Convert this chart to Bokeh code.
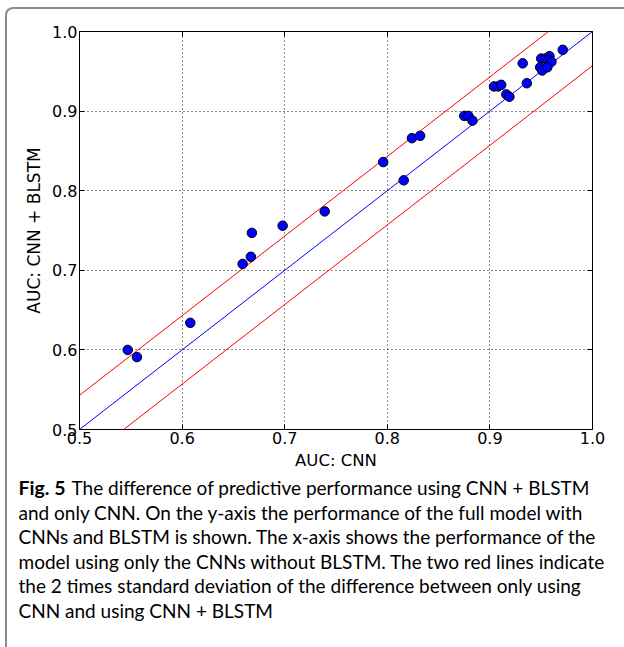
from bokeh.plotting import figure
from bokeh.layouts import column
from bokeh.models import Range1d, FixedTicker, InlineStyleSheet, LinearAxis
from bokeh.core.properties import value
from bokeh.embed import file_html
from bokeh.resources import INLINE

# ---- data ----
cnn_auc = [0.547, 0.556, 0.608, 0.659, 0.667, 0.668, 0.698, 0.739,
           0.796, 0.816, 0.824, 0.832, 0.875, 0.879, 0.883,
           0.904, 0.908, 0.911, 0.916, 0.919, 0.932, 0.936,
           0.950, 0.954, 0.958, 0.957, 0.960, 0.949, 0.951, 0.956, 0.971]
blstm_auc = [0.600, 0.591, 0.634, 0.708, 0.717, 0.747, 0.756, 0.774,
             0.836, 0.813, 0.866, 0.869, 0.894, 0.894, 0.888,
             0.931, 0.931, 0.933, 0.921, 0.918, 0.960, 0.935,
             0.966, 0.966, 0.969, 0.964, 0.962, 0.955, 0.951, 0.955, 0.977]

diag_x = [0.5, 1.0]
diag_y = [0.5, 1.0]
upper_y = [0.543, 1.043]
lower_y = [0.457, 0.957]

ticks = [0.5, 0.6, 0.7, 0.8, 0.9, 1.0]
tick_labels = ["0.5", "0.6", "0.7", "0.8", "0.9", "1.0"]

x_title = "AUC: CNN"
y_title = "AUC: CNN + BLSTM"
caption_bold = "Fig. 5"
caption_lines = [
    "The difference of predictive performance using CNN + BLSTM",
    "and only CNN. On the y-axis the performance of the full model with",
    "CNNs and BLSTM is shown. The x-axis shows the performance of the",
    "model using only the CNNs without BLSTM. The two red lines indicate",
    "the 2 times standard deviation of the difference between only using",
    "CNN and using CNN + BLSTM",
]

# ---- layout (pixels) ----
W, H = 624, 647
FL, FT, FW, FH = 79, 31, 513, 399   # frame left/top/width/height
H1 = 472                            # height of the chart part
H2 = H - H1                         # caption part

p = figure(width=W, height=H1, output_backend="svg", toolbar_location=None,
           x_range=Range1d(0.5, 1.0), y_range=Range1d(0.5, 1.0),
           min_border_left=FL, min_border_right=W - FL - FW, min_border_top=FT,
           min_border_bottom=H1 - FT - FH)
p.frame_align = False
p.background_fill_color = "white"
p.border_fill_color = "white"
p.outline_line_color = "black"
p.outline_line_width = 1
p.outline_line_alpha = 1

bottom_axis = p.below[0]
left_axis = p.left[0]

# mirror ticks on the top and right edges (matplotlib style), no labels
top_axis = LinearAxis()
right_axis = LinearAxis()
p.add_layout(top_axis, "above")
p.add_layout(right_axis, "right")
for ax in (top_axis, right_axis):
    ax.ticker = FixedTicker(ticks=ticks)
    ax.major_label_overrides = {t: "" for t in ticks}
    ax.major_label_text_font_size = "1px"
    ax.major_label_standoff = 0
    ax.axis_line_color = None
    ax.major_tick_in = 5
    ax.major_tick_out = 0
    ax.major_tick_line_color = "black"
    ax.minor_tick_line_color = None

for ax in (bottom_axis, left_axis):
    ax.ticker = FixedTicker(ticks=ticks)
    ax.major_label_overrides = {t: l for t, l in zip(ticks, tick_labels)}
    ax.axis_line_color = None
    ax.major_tick_in = 5
    ax.major_tick_out = 0
    ax.major_tick_line_color = "black"
    ax.minor_tick_line_color = None
    ax.major_label_text_font = "DejaVu Sans"
    ax.major_label_text_font_size = "16px"
    ax.major_label_text_color = "black"
    ax.major_label_standoff = 2
    ax.axis_label_text_font = "DejaVu Sans"
    ax.axis_label_text_font_style = "normal"
    ax.axis_label_text_color = "black"

bottom_axis.axis_label = x_title
left_axis.axis_label = y_title
bottom_axis.axis_label_text_font_size = "16.5px"
left_axis.axis_label_text_font_size = "17px"
bottom_axis.axis_label_standoff = 4
left_axis.axis_label_standoff = 5

for g in p.grid:
    g.ticker = FixedTicker(ticks=ticks)
    g.grid_line_color = "black"
    g.grid_line_dash = "1 3"
    g.grid_line_width = 1
    g.grid_line_alpha = 0.9

p.line(diag_x, upper_y, line_color="red", line_width=1)
p.line(diag_x, lower_y, line_color="red", line_width=1)
p.line(diag_x, diag_y, line_color="blue", line_width=1)

p.scatter(cnn_auc, blstm_auc, size=9.5, fill_color="#0000ff",
          line_color="black", line_width=1)

# ---- caption panel: a bare figure whose data units are page pixels ----
c = figure(width=W, height=H2, output_backend="svg", toolbar_location=None,
           x_range=Range1d(0, W), y_range=Range1d(H, H1),
           x_axis_type=None, y_axis_type=None,
           min_border=0, min_border_left=0, min_border_right=0,
           min_border_top=0, min_border_bottom=0)
c.frame_align = False
c.grid.visible = False
c.outline_line_color = None
c.background_fill_color = "white"
c.border_fill_color = "white"

cap_font = value("Lato")
cap_size = value("19px")
line_centers = [487, 511.5, 536, 560.5, 585, 609.5]
text_x = [71] + [18] * (len(caption_lines) - 1)
c.text(x=[18], y=[line_centers[0]], text=[caption_bold], text_font=cap_font,
       text_font_size=value("19.5px"), text_font_style="bold", text_baseline="middle",
       text_color="black")
c.text(x=text_x, y=line_centers, text=caption_lines, text_font=cap_font,
       text_font_size=cap_size, text_baseline="middle", text_color="black")

layout = column(p, c, spacing=0)
layout.stylesheets = [InlineStyleSheet(css=(
    ":host { position: relative; }"
    ":host::after { content: ''; position: absolute; left: 5px; top: 7px; right: 0; bottom: 0;"
    " border-left: 2px solid #8c8c8c; border-top: 2px solid #8c8c8c;"
    " border-top-left-radius: 8px; pointer-events: none; box-sizing: border-box; }"
))]

open("out.html", "w").write(file_html(layout, INLINE))
